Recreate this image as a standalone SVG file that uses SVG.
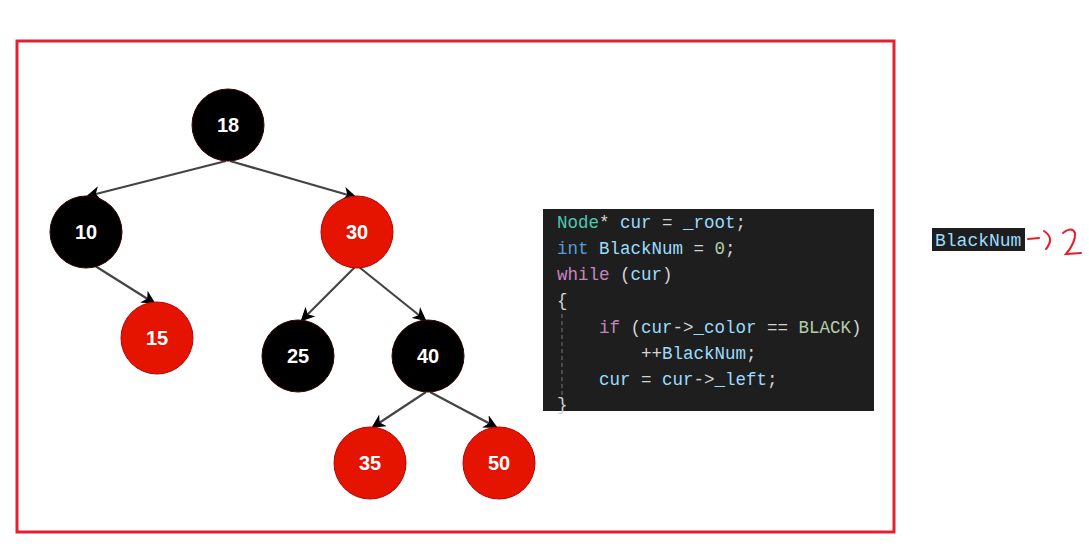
<svg xmlns="http://www.w3.org/2000/svg" width="1089" height="557" viewBox="0 0 1089 557">
<style>
.blk{fill:#000;stroke:#3a0000;stroke-width:1}
.red{fill:#e51400;stroke:#b00;stroke-width:1}
.lbl{font-family:"Liberation Sans",Arial,sans-serif;font-weight:bold;font-size:20px;fill:#fff;text-anchor:middle;dominant-baseline:central}
.edge{stroke:#444;stroke-width:2.2;fill:none;marker-end:url(#ah)}
.code{font-family:"Liberation Mono","DejaVu Sans Mono",monospace;font-size:17.5px;fill:#d4d4d4}
.kw{fill:#569cd6}.ty{fill:#4ec9b0}.id{fill:#9cdcfe}.num{fill:#b5cea8}.ctl{fill:#c586c0}
</style>
<defs>
<marker id="ah" markerWidth="15" markerHeight="14" refX="12" refY="7" orient="auto" markerUnits="userSpaceOnUse">
<path d="M0,0 L14,7 L0,14 L4,7 Z" fill="#000"/>
</marker>
</defs>
<rect x="0" y="0" width="1089" height="557" fill="#fff"/>
<rect x="17" y="41" width="877" height="491" fill="none" stroke="#e5202e" stroke-width="3"/>
<g id="connectors">
<line class="edge" x1="226" y1="161" x2="88" y2="196"/>
<line class="edge" x1="230" y1="161" x2="355" y2="197"/>
<line class="edge" x1="92" y1="264" x2="154" y2="303"/>
<line class="edge" x1="355" y1="267" x2="302" y2="320"/>
<line class="edge" x1="359" y1="267" x2="425" y2="320"/>
<line class="edge" x1="426" y1="392" x2="373" y2="427"/>
<line class="edge" x1="430" y1="392" x2="496" y2="427"/>
</g>
<g id="n18"><circle class="blk" cx="228" cy="125" r="36"/><text class="lbl" x="228" y="125">18</text></g>
<g id="n10"><circle class="blk" cx="86" cy="232" r="36"/><text class="lbl" x="86" y="232">10</text></g>
<g id="n30"><circle class="red" cx="357" cy="232" r="36"/><text class="lbl" x="357" y="232">30</text></g>
<g id="n15"><circle class="red" cx="157" cy="338" r="36"/><text class="lbl" x="157" y="338">15</text></g>
<g id="n25"><circle class="blk" cx="298" cy="356" r="36"/><text class="lbl" x="298" y="356">25</text></g>
<g id="n40"><circle class="blk" cx="428" cy="356" r="36"/><text class="lbl" x="428" y="356">40</text></g>
<g id="n35"><circle class="red" cx="370" cy="463" r="36"/><text class="lbl" x="370" y="463">35</text></g>
<g id="n50"><circle class="red" cx="499" cy="463" r="36"/><text class="lbl" x="499" y="463">50</text></g>
<g id="code">
<rect x="543" y="209" width="331" height="202" fill="#1e1e1e"/>
<line x1="562" y1="314" x2="562" y2="396" stroke="#777" stroke-width="1" stroke-dasharray="4,3"/>
<text class="code" xml:space="preserve"><tspan x="557" y="228"><tspan class="ty">Node</tspan>* <tspan class="id">cur</tspan> = <tspan class="id">_root</tspan>;</tspan><tspan x="557" y="254"><tspan class="kw">int</tspan> <tspan class="id">BlackNum</tspan> = <tspan class="num">0</tspan>;</tspan><tspan x="557" y="280"><tspan class="ctl">while</tspan> (<tspan class="id">cur</tspan>)</tspan><tspan x="557" y="306">{</tspan><tspan x="599" y="333"><tspan class="ctl">if</tspan> (<tspan class="id">cur</tspan>-&gt;<tspan class="id">_color</tspan> == <tspan class="num">BLACK</tspan>)</tspan><tspan x="641" y="359">++<tspan class="id">BlackNum</tspan>;</tspan><tspan x="599" y="385"><tspan class="id">cur</tspan> = <tspan class="id">cur</tspan>-&gt;<tspan class="id">_left</tspan>;</tspan><tspan x="557" y="410">}</tspan></text>
</g>
<g id="note">
<rect x="932" y="228" width="93" height="23" fill="#1e1e1e"/>
<text class="code" x="935" y="246" style="fill:#9cdcfe;font-size:18px">BlackNum</text>
<path d="M1028,239 L1039,238 M1044,231 Q1055,238 1046,249 M1063,233 Q1072,226 1075,233 Q1076,242 1066,254 L1081,253" fill="none" stroke="#e5202e" stroke-width="2" stroke-linecap="round"/>
</g>
</svg>
